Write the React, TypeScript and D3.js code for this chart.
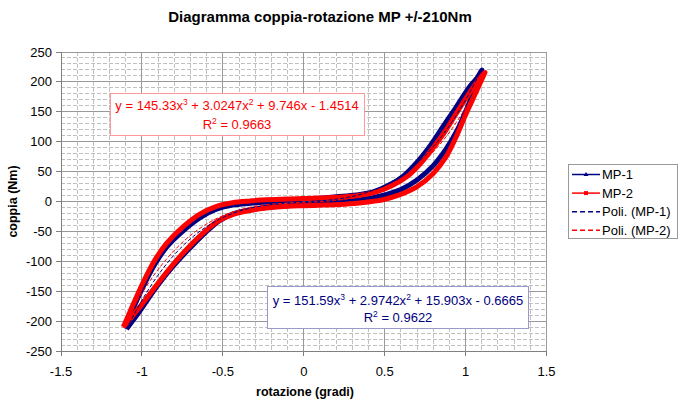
import React from "react";
import * as d3 from "d3";

// ---- data ----
const title = "Diagramma coppia-rotazione MP +/-210Nm";
const xTicks = [-1.5, -1, -0.5, 0, 0.5, 1, 1.5];
const yTicks = [250, 200, 150, 100, 50, 0, -50, -100, -150, -200, -250];

// MP-1 loop: lower branch (x increasing) then upper branch (x decreasing)
const mp1X = [
  -1.095, -1.05, -1.0, -0.91, -0.81, -0.7, -0.6, -0.52, -0.44, -0.33, -0.23, -0.1, 0.0, 0.12, 0.22, 0.32, 0.42, 0.5, 0.6, 0.7, 0.8, 0.88, 0.95, 1.01, 1.06, 1.095,
  1.1, 1.07, 1.025, 0.942, 0.86, 0.778, 0.695, 0.613, 0.531, 0.428, 0.325, 0.2, 0.12, 0.0, -0.1, -0.23, -0.33, -0.44, -0.54, -0.64, -0.745, -0.85, -0.92, -0.99, -1.05, -1.095,
];
const mp1Y = [
  -213, -197, -178, -143, -109, -77, -50, -32, -21, -14, -10, -7, -5, -3, -1, 2, 6, 11, 20, 36, 60, 88, 120, 157, 190, 217,
  220, 206, 192, 158, 125, 92, 64, 42, 28, 16, 11, 8, 6, 4, 2, -1, -3, -6, -13, -27, -49, -77, -105, -141, -177, -213,
];

// MP-2 loop
const mp2X = [
  -1.115, -1.06, -1.0, -0.91, -0.81, -0.71, -0.61, -0.53, -0.44, -0.33, -0.23, -0.1, 0.0, 0.12, 0.22, 0.33, 0.42, 0.49, 0.59, 0.7, 0.8, 0.88, 0.94, 1.0, 1.07, 1.117,
  1.12, 1.1, 1.04, 0.96, 0.88, 0.8, 0.72, 0.64, 0.55, 0.45, 0.34, 0.2, 0.0, -0.23, -0.33, -0.44, -0.539, -0.642, -0.745, -0.848, -0.92, -0.992, -1.054, -1.115,
];
const mp2Y = [
  -210, -192, -172, -140, -106, -76, -50, -33, -22, -15, -11, -8, -7, -6, -5, -3, 0, 3, 11, 25, 47, 75, 107, 145, 186, 214,
  216, 210, 188, 155, 120, 90, 63, 42, 27, 16, 10, 7, 5, 3, 1, -2, -8, -21, -42, -70, -98, -135, -172, -210,
];

// polynomial trendline coefficients [c0, c1, c2, c3]
const poly1 = [-0.6665, 15.903, 2.9742, 151.59];
const poly2 = [-1.4514, 9.746, 3.0247, 145.33];
const poly1Range = [-1.095, 1.1];
const poly2Range = [-1.117, 1.12];

const legendLabels = ["MP-1", "MP-2", "Poli. (MP-1)", "Poli. (MP-2)"];

const BLUE = "#000080";
const RED = "#ff0000";
const FONT = "Arial, 'Liberation Sans', sans-serif";

export default function App() {
  const W = 683, H = 407;
  const x = d3.scaleLinear().domain([-1.5, 1.5]).range([61, 546.5]);
  const y = d3.scaleLinear().domain([-250, 250]).range([351, 52]);

  const minorX = d3.range(-15, 16).filter((i) => i % 5 !== 0).map((i) => i / 10);
  const minorY = d3.range(-25, 26).filter((i) => i % 5 !== 0).map((i) => i * 10);

  const line = d3
    .line<[number, number]>()
    .x((d) => x(d[0]))
    .y((d) => y(d[1]))
    .curve(d3.curveCatmullRom.alpha(0.5));

  const pts1: [number, number][] = mp1X.map((v, i) => [v, mp1Y[i]]);
  const pts2: [number, number][] = mp2X.map((v, i) => [v, mp2Y[i]]);

  const polyPts = (c: number[], r: number[]) => {
    const n = 80;
    const out: [number, number][] = [];
    for (let i = 0; i <= n; i++) {
      const xv = r[0] + ((r[1] - r[0]) * i) / n;
      out.push([xv, c[0] + c[1] * xv + c[2] * xv * xv + c[3] * xv * xv * xv]);
    }
    return out;
  };
  const straight = d3
    .line<[number, number]>()
    .x((d) => x(d[0]))
    .y((d) => y(d[1]));

  const [x0, x1] = x.range();
  const [yb, yt] = y.range();

  const legX = 568, legY = 164;
  const rowH = 18.6;

  return (
    <svg
      width={W}
      height={H}
      style={{ position: "absolute", left: 0, top: 0, background: "#fff" }}
      fontFamily={FONT}
    >
      <rect x={0} y={0} width={W} height={H} fill="#fff" />
      <text x={320} y={22} textAnchor="middle" fontSize={15} fontWeight="bold" fill="#000">
        {title}
      </text>

      {/* minor grid */}
      <g stroke="#c0c0c0" strokeWidth={1} strokeDasharray="4,2" shapeRendering="crispEdges">
        {minorX.map((v) => (
          <line key={"mx" + v} x1={x(v)} x2={x(v)} y1={yt} y2={yb} />
        ))}
        {minorY.map((v) => (
          <line key={"my" + v} x1={x0} x2={x1} y1={y(v)} y2={y(v)} />
        ))}
      </g>
      {/* major grid */}
      <g stroke="#9a9a9a" strokeWidth={1} shapeRendering="crispEdges">
        {xTicks.map((v) => (
          <line key={"gx" + v} x1={x(v)} x2={x(v)} y1={yt} y2={yb} />
        ))}
        {yTicks.map((v) => (
          <line key={"gy" + v} x1={x0} x2={x1} y1={y(v)} y2={y(v)} />
        ))}
      </g>
      {/* axes */}
      <g stroke="#808080" strokeWidth={1} shapeRendering="crispEdges">
        <line x1={x0} x2={x0} y1={yt} y2={yb} />
        <line x1={x0} x2={x1} y1={yb} y2={yb} />
        {yTicks.map((v) => (
          <line key={"ty" + v} x1={x0 - 5} x2={x0} y1={y(v)} y2={y(v)} />
        ))}
        {xTicks.map((v) => (
          <line key={"tx" + v} x1={x(v)} x2={x(v)} y1={yb} y2={yb + 5} />
        ))}
      </g>
      <g fontSize={13} fill="#000">
        {yTicks.map((v) => (
          <text key={"ly" + v} x={52} y={y(v) + 4.5} textAnchor="end">
            {v}
          </text>
        ))}
        {xTicks.map((v) => (
          <text key={"lx" + v} x={x(v)} y={yb + 25} textAnchor="middle">
            {v}
          </text>
        ))}
      </g>
      <text x={305} y={396} textAnchor="middle" fontSize={12.5} fontWeight="bold">
        rotazione (gradi)
      </text>
      <text
        transform={`translate(17,${y(0)}) rotate(-90)`}
        textAnchor="middle"
        fontSize={12.5}
        fontWeight="bold"
      >
        coppia (Nm)
      </text>

      {/* series */}
      <path d={line(pts1) || ""} fill="none" stroke={BLUE} strokeWidth={5} strokeLinejoin="round" />
      <path d={line(pts2) || ""} fill="none" stroke={RED} strokeWidth={5} strokeLinejoin="round" />
      <path d={straight(polyPts(poly1, poly1Range)) || ""} fill="none" stroke={BLUE} strokeWidth={1} strokeDasharray="4,2" />
      <path d={straight(polyPts(poly2, poly2Range)) || ""} fill="none" stroke={RED} strokeWidth={1} strokeDasharray="4,2" />

      {/* equation boxes */}
      <rect x={110.5} y={93.5} width={254} height={42} fill="#fff" stroke="#ff9999" strokeWidth={1} />
      <text x={237} y={110} textAnchor="middle" fontSize={13} fill={RED}>
        y = 145.33x<tspan dy={-5} fontSize={8.5}>3</tspan>
        <tspan dy={5}> + 3.0247x</tspan>
        <tspan dy={-5} fontSize={8.5}>2</tspan>
        <tspan dy={5}> + 9.746x - 1.4514</tspan>
      </text>
      <text x={237} y={128.5} textAnchor="middle" fontSize={13} fill={RED}>
        R<tspan dy={-5} fontSize={8.5}>2</tspan>
        <tspan dy={5}> = 0.9663</tspan>
      </text>

      <rect x={267.5} y={286.5} width={261} height={42} fill="#fff" stroke="#9999cc" strokeWidth={1} />
      <text x={398} y={305} textAnchor="middle" fontSize={13} fill={BLUE}>
        y = 151.59x<tspan dy={-5} fontSize={8.5}>3</tspan>
        <tspan dy={5}> + 2.9742x</tspan>
        <tspan dy={-5} fontSize={8.5}>2</tspan>
        <tspan dy={5}> + 15.903x - 0.6665</tspan>
      </text>
      <text x={398} y={322} textAnchor="middle" fontSize={13} fill={BLUE}>
        R<tspan dy={-5} fontSize={8.5}>2</tspan>
        <tspan dy={5}> = 0.9622</tspan>
      </text>

      {/* legend */}
      <rect x={legX + 0.5} y={legY + 0.5} width={109} height={74} fill="#fff" stroke="#999" strokeWidth={1} />
      {legendLabels.map((lab, i) => {
        const cy = legY + 10.5 + i * rowH;
        const col = i % 2 === 0 ? BLUE : RED;
        const dashed = i >= 2;
        return (
          <g key={lab}>
            <line
              x1={legX + 4}
              x2={legX + 32}
              y1={cy}
              y2={cy}
              stroke={col}
              strokeWidth={1.5}
              strokeDasharray={dashed ? "5,3" : undefined}
            />
            {i === 0 && <path d={`M${legX + 18},${cy - 2.5}L${legX + 20.5},${cy + 1.5}L${legX + 15.5},${cy + 1.5}Z`} fill={BLUE} />}
            {i === 1 && <rect x={legX + 16} y={cy - 2} width={4} height={4} fill={RED} />}
            <text x={legX + 34} y={cy + 4.5} fontSize={13} fill="#000">
              {lab}
            </text>
          </g>
        );
      })}
    </svg>
  );
}
